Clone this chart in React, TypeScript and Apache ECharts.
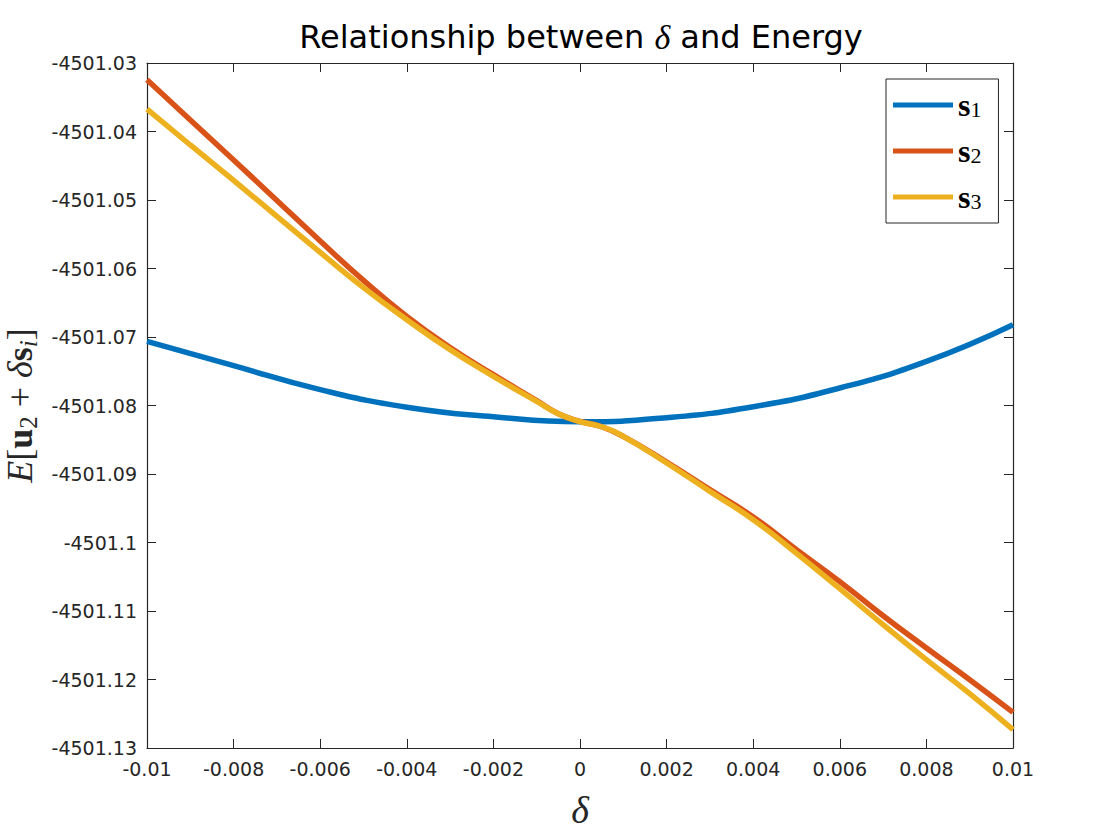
import React, { useEffect, useRef } from "react";
import * as echarts from "echarts";

// delta sampling
const deltaFine = [
  -0.01, -0.009, -0.008, -0.007, -0.006, -0.005, -0.004, -0.003, -0.002, -0.001, -0.0005,
  0, 0.0005, 0.001, 0.002, 0.003, 0.004, 0.005, 0.006, 0.007, 0.008, 0.009, 0.01,
];
const s2Values = [
  -4501.03244, -4501.03832, -4501.04416, -4501.05006, -4501.05599, -4501.06174, -4501.06699,
  -4501.07152, -4501.0755, -4501.0793, -4501.0812, -4501.08232, -4501.0831, -4501.08451,
  -4501.08825, -4501.09229, -4501.09628, -4501.10105, -4501.10572, -4501.11069, -4501.1154,
  -4501.12003, -4501.1248,
];
const s3Values = [
  -4501.03672, -4501.04197, -4501.04714, -4501.05239, -4501.05765, -4501.0628, -4501.06747,
  -4501.07185, -4501.07575, -4501.0794, -4501.0812, -4501.08237, -4501.0831, -4501.08451,
  -4501.08839, -4501.09254, -4501.09667, -4501.10159, -4501.10675, -4501.112, -4501.11711,
  -4501.12207, -4501.12733,
];
const deltaCoarse = [-0.01, -0.008, -0.006, -0.004, -0.002, 0, 0.002, 0.004, 0.006, 0.008, 0.01];
const s1Values = [
  -4501.07064, -4501.07419, -4501.07769, -4501.08025, -4501.08164, -4501.08236, -4501.08178,
  -4501.08018, -4501.07745, -4501.07356, -4501.0682,
];
const seriesNames = ["s1", "s2", "s3"];
const seriesColors = ["#0072BD", "#D95319", "#EDB120"];

const X_MIN = -0.01;
const X_MAX = 0.01;
const X_STEP = 0.002;
const Y_MIN = -4501.13;
const Y_MAX = -4501.03;
const Y_STEP = 0.01;

const SANS = "DejaVu Sans";
const SERIF = "Liberation Serif";
const INK = "#262626";

export default function App() {
  const ref = useRef<HTMLDivElement>(null);

  useEffect(() => {
    document.body.style.margin = "0";
    if (!ref.current) return;
    const chart = echarts.init(ref.current, undefined, { renderer: "svg" });

    const fmt = (v: number, p: number) => String(parseFloat(v.toFixed(p)));
    const tickStyle = { show: true, inside: true, length: 9, lineStyle: { color: INK, width: 1 } };
    const lineStyleAxis = { show: true, onZero: false, lineStyle: { color: INK, width: 1.2 } };
    const mathMain = { fontFamily: SERIF, fontSize: 36, color: INK, lineHeight: 42, verticalAlign: "middle", fontWeight: "normal" };
    const mathSub = { fontFamily: SERIF, fontSize: 25, color: INK, lineHeight: 25, verticalAlign: "bottom", fontWeight: "normal" };

    const option: any = {
      animation: false,
      backgroundColor: "#ffffff",
      title: {
        text: "{a|Relationship between }{d|δ}{a| and Energy}",
        left: 576,
        top: 15,
        textAlign: "center",
        textStyle: {
          fontWeight: "normal",
          rich: {
            a: { fontFamily: SANS, fontSize: 32, color: "#000", fontWeight: "normal" },
            d: { fontFamily: SERIF, fontStyle: "italic", fontWeight: "normal", fontSize: 34, color: "#000" },
          },
        },
      },
      grid: { left: 147, right: 107, top: 63, bottom: 92, containLabel: false, outerBoundsMode: "none" },
      legend: {
        orient: "vertical",
        left: 886,
        top: 79,
        data: seriesNames,
        icon: "rect",
        itemWidth: 60,
        itemHeight: 5,
        itemGap: 14,
        padding: [10, 17, 10, 7],
        borderColor: INK,
        borderWidth: 1,
        backgroundColor: "#ffffff",
        formatter: (name: string) => `{s|s}{n|${name.slice(1)}}`,
        textStyle: {
          rich: {
            s: { fontFamily: SERIF, fontWeight: "bold", fontSize: 32, color: "#000", lineHeight: 30, verticalAlign: "middle" },
            n: { fontFamily: SERIF, fontSize: 22, color: "#000", lineHeight: 20, verticalAlign: "bottom" },
          },
        },
      },
      xAxis: [
        {
          type: "value",
          min: X_MIN,
          max: X_MAX,
          interval: X_STEP,
          position: "bottom",
          axisLine: lineStyleAxis,
          axisTick: tickStyle,
          splitLine: { show: false },
          axisLabel: {
            margin: 11,
            color: INK,
            fontFamily: SANS,
            fontSize: 19,
            formatter: (v: number) => fmt(v, 6),
          },
          name: "δ",
          nameLocation: "middle",
          nameGap: 43,
          nameTextStyle: { fontFamily: SERIF, fontStyle: "italic", fontSize: 38, color: INK },
        },
        {
          type: "value",
          min: X_MIN,
          max: X_MAX,
          interval: X_STEP,
          position: "top",
          axisLine: lineStyleAxis,
          axisTick: tickStyle,
          splitLine: { show: false },
          axisLabel: { show: false },
        },
      ],
      yAxis: [
        {
          type: "value",
          min: Y_MIN,
          max: Y_MAX,
          interval: Y_STEP,
          position: "left",
          axisLine: lineStyleAxis,
          axisTick: tickStyle,
          splitLine: { show: false },
          axisLabel: {
            margin: 10,
            color: INK,
            fontFamily: SANS,
            fontSize: 19,
            formatter: (v: number) => fmt(v, 4),
          },
          name: "{e|E}{b|[}{u|u}{sub|2}{p| + }{d|δ}{u|s}{si|i}{b|]}",
          nameLocation: "middle",
          nameRotate: 90,
          nameGap: 94,
          nameTextStyle: {
            rich: {
              e: { ...mathMain, fontStyle: "italic" },
              b: { ...mathMain },
              u: { ...mathMain, fontWeight: "bold" },
              p: { ...mathMain },
              d: { ...mathMain, fontStyle: "italic" },
              sub: { ...mathSub },
              si: { ...mathSub, fontStyle: "italic" },
            },
          },
        },
        {
          type: "value",
          min: Y_MIN,
          max: Y_MAX,
          interval: Y_STEP,
          position: "right",
          axisLine: lineStyleAxis,
          axisTick: tickStyle,
          splitLine: { show: false },
          axisLabel: { show: false },
        },
      ],
      series: [
        {
          name: seriesNames[0],
          type: "line",
          xAxisIndex: 0,
          yAxisIndex: 0,
          data: deltaCoarse.map((d, i) => [d, s1Values[i]]),
          showSymbol: false,
          symbol: "none",
          smooth: 0.5,
          lineStyle: { color: seriesColors[0], width: 5.5 },
          itemStyle: { color: seriesColors[0] },
        },
        {
          name: seriesNames[1],
          type: "line",
          xAxisIndex: 0,
          yAxisIndex: 0,
          data: deltaFine.map((d, i) => [d, s2Values[i]]),
          showSymbol: false,
          symbol: "none",
          smooth: 0.5,
          lineStyle: { color: seriesColors[1], width: 5.5 },
          itemStyle: { color: seriesColors[1] },
        },
        {
          name: seriesNames[2],
          type: "line",
          xAxisIndex: 0,
          yAxisIndex: 0,
          data: deltaFine.map((d, i) => [d, s3Values[i]]),
          showSymbol: false,
          symbol: "none",
          smooth: 0.5,
          lineStyle: { color: seriesColors[2], width: 5.5 },
          itemStyle: { color: seriesColors[2] },
        },
      ],
    };

    chart.setOption(option);
    return () => chart.dispose();
  }, []);

  return <div ref={ref} style={{ width: 1120, height: 840 }} />;
}
